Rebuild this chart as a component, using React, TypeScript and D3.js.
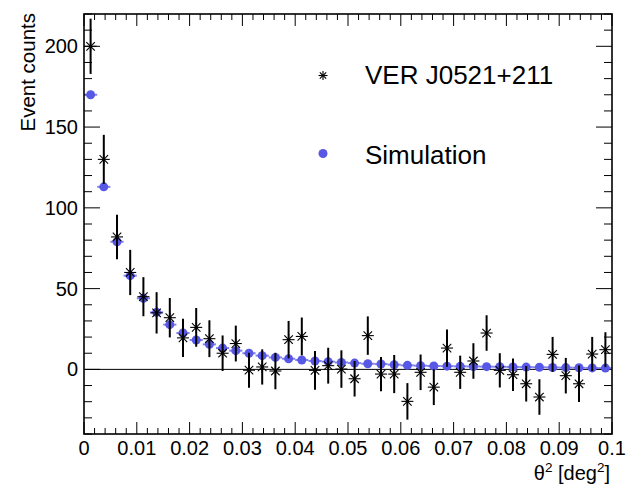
import React from "react";
import * as d3 from "d3";

const theta2 = [
  0.00125, 0.00375, 0.00625, 0.00875, 0.01125, 0.01375, 0.01625, 0.01875, 0.02125, 0.02375,
  0.02625, 0.02875, 0.03125, 0.03375, 0.03625, 0.03875, 0.04125, 0.04375, 0.04625, 0.04875,
  0.05125, 0.05375, 0.05625, 0.05875, 0.06125, 0.06375, 0.06625, 0.06875, 0.07125, 0.07375,
  0.07625, 0.07875, 0.08125, 0.08375, 0.08625, 0.08875, 0.09125, 0.09375, 0.09625, 0.09875,
];
const binHalfWidth = 0.00125;

const dataCounts = [
  200, 130, 82, 60, 45, 35, 32, 19.5, 26, 19,
  10, 16, -0.5, 1.5, -1, 18.4, 20.4, -0.6, 2.3, 0.2,
  -5.8, 20.9, -2.9, -2.9, -19.8, -1.8, -11, 13.2, -1.8, 5.2,
  22.5, -0.6, -3.3, -8.9, -17.1, 9.3, -3.9, -8.9, 9.5, 12.2,
];
const dataErrors = [
  17.1, 15.2, 13.8, 14, 12.1, 12.8, 12.2, 11.9, 12, 11.4,
  11, 11.1, 10.8, 10.9, 11.3, 11.6, 11.7, 12, 11.1, 11.6,
  11, 11.9, 10.6, 11.8, 11.3, 11, 11.1, 11.5, 10.3, 11,
  11, 10.6, 10.1, 11, 11, 10.8, 11, 11.3, 10.6, 10.8,
];
const simCounts = [
  170, 113, 79, 58, 44, 35.3, 27.7, 22.5, 18.2, 15.5,
  13.2, 11.6, 10, 8.5, 7.4, 6.6, 5.8, 5.2, 4.8, 4.3,
  3.9, 3.5, 3.3, 2.9, 2.5, 2.3, 2.1, 2.0, 1.9, 1.8,
  1.7, 1.6, 1.5, 1.4, 1.3, 1.2, 1.1, 1.0, 0.9, 0.8,
];

const xTickLabels = ["0", "0.01", "0.02", "0.03", "0.04", "0.05", "0.06", "0.07", "0.08", "0.09", "0.1"];
const yTickValues = [0, 50, 100, 150, 200];
const legendLabels = ["VER J0521+211", "Simulation"];

const W = 628, H = 486;
const L = 84, R = 612, T = 14, B = 434;
const FONT = "'Liberation Sans', Arial, Helvetica, sans-serif";
const BLUE = "#5858e6";

function Star({ x, y, s }: { x: number; y: number; s: number }) {
  const d = s * 0.7071;
  return (
    <g stroke="#000" strokeWidth={1.1}>
      <line x1={x - s} y1={y} x2={x + s} y2={y} />
      <line x1={x} y1={y - s} x2={x} y2={y + s} />
      <line x1={x - d} y1={y - d} x2={x + d} y2={y + d} />
      <line x1={x - d} y1={y + d} x2={x + d} y2={y - d} />
    </g>
  );
}

export default function App() {
  const x = d3.scaleLinear().domain([0, 0.1]).range([L, R]);
  const y = d3.scaleLinear().domain([-40, 220]).range([B, T]);

  const xMinor = d3.range(0, 51).map((i) => i * 0.002);
  const xMajor = d3.range(0, 11).map((i) => i * 0.01);
  const yMinor = d3.range(-4, 23).map((i) => i * 10);

  return (
    <svg width={W} height={H} style={{ position: "absolute", left: 0, top: 0, background: "#fff" }} fontFamily={FONT}>
      <rect x={0} y={0} width={W} height={H} fill="#fff" />
      {/* zero line */}
      <line x1={L} x2={R} y1={y(0)} y2={y(0)} stroke="#000" strokeWidth={1} />

      {/* ticks */}
      <g stroke="#000" strokeWidth={1}>
        {xMinor.map((v, i) => {
          const isMajor = i % 5 === 0;
          const len = isMajor ? 12 : 6;
          return (
            <g key={"xt" + i}>
              <line x1={x(v)} x2={x(v)} y1={B} y2={B - len} />
              <line x1={x(v)} x2={x(v)} y1={T} y2={T + len} />
            </g>
          );
        })}
        {yMinor.map((v, i) => {
          const isMajor = v % 50 === 0;
          const len = isMajor ? 16 : 8;
          return (
            <g key={"yt" + i}>
              <line x1={L} x2={L + len} y1={y(v)} y2={y(v)} />
              <line x1={R} x2={R - len} y1={y(v)} y2={y(v)} />
            </g>
          );
        })}
      </g>

      {/* simulation */}
      <g>
        {theta2.map((t, i) => (
          <line key={"sh" + i} x1={x(t - binHalfWidth)} x2={x(t + binHalfWidth)} y1={y(simCounts[i])} y2={y(simCounts[i])} stroke={BLUE} strokeOpacity={0.75} strokeWidth={2} />
        ))}
        {theta2.map((t, i) => (
          <circle key={"sc" + i} cx={x(t)} cy={y(simCounts[i])} r={4.5} fill={BLUE} />
        ))}
      </g>

      {/* data */}
      <g>
        {theta2.map((t, i) => (
          <g key={"d" + i}>
            <line x1={x(t)} x2={x(t)} y1={y(dataCounts[i] - dataErrors[i])} y2={y(dataCounts[i] + dataErrors[i])} stroke="#000" strokeWidth={2} />
            <Star x={x(t)} y={y(dataCounts[i])} s={6} />
            <circle cx={x(t)} cy={y(dataCounts[i])} r={1.6} fill="#000" />
          </g>
        ))}
      </g>

      {/* frame */}
      <rect x={L} y={T} width={R - L} height={B - T} fill="none" stroke="#000" strokeWidth={1.6} />

      {/* x tick labels */}
      {xMajor.map((v, i) => (
        <text key={"xl" + i} x={x(v)} y={455} fontSize={20} textAnchor="middle">
          {xTickLabels[i]}
        </text>
      ))}
      {/* y tick labels */}
      {yTickValues.map((v) => (
        <text key={"yl" + v} x={78} y={y(v) + 7} fontSize={20} textAnchor="end">
          {String(v)}
        </text>
      ))}

      {/* axis titles */}
      <text x={0} y={0} fontSize={20.5} textAnchor="end" transform={`translate(35,13) rotate(-90)`}>
        Event counts
      </text>
      <text x={610} y={480} fontSize={20} textAnchor="end">
        θ<tspan dy={-8} fontSize={13.5}>2</tspan>
        <tspan dy={8}> [deg</tspan>
        <tspan dy={-8} fontSize={13.5}>2</tspan>
        <tspan dy={8}>]</tspan>
      </text>

      {/* legend */}
      <Star x={323} y={75.5} s={4.5} />
      <text x={365} y={83.5} fontSize={26}>
        {legendLabels[0]}
      </text>
      <circle cx={323} cy={153.5} r={4.5} fill={BLUE} />
      <text x={365} y={163.5} fontSize={26}>
        {legendLabels[1]}
      </text>
    </svg>
  );
}
